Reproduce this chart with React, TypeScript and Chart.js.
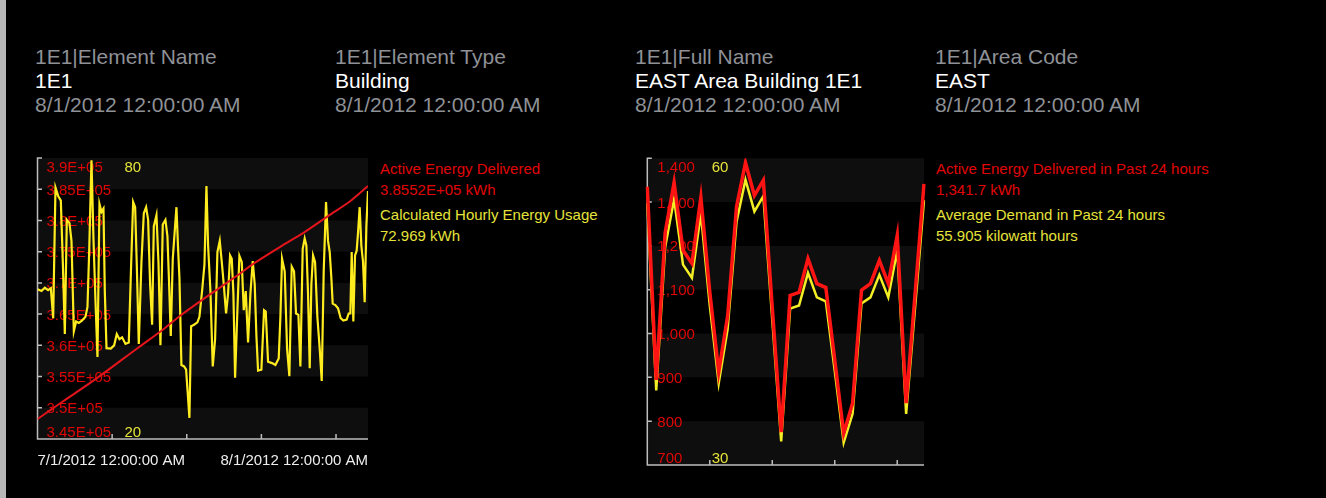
import React, { useEffect, useRef } from "react";
import { Chart, registerables } from "chart.js";

Chart.register(...registerables);

const FONT = "'Liberation Sans', Arial, Helvetica, sans-serif";

// ---------- header ----------
const headerTitles = ["1E1|Element Name", "1E1|Element Type", "1E1|Full Name", "1E1|Area Code"];
const headerValues = ["1E1", "Building", "EAST Area Building 1E1", "EAST"];
const headerTimes = ["8/1/2012 12:00:00 AM", "8/1/2012 12:00:00 AM", "8/1/2012 12:00:00 AM", "8/1/2012 12:00:00 AM"];

// ---------- left chart (hours since 7/1/2012) ----------
const usageHours = [
  0, 9, 16.5, 24, 30, 35.3, 40.5, 46.5, 52.5, 57, 61.5, 66, 72, 76.5, 81.8, 87, 93, 100.5, 108, 112.5,
  116.3, 121.5, 126, 130.5, 135, 139.5, 144, 148.5, 151.5, 155.3, 165, 172.5, 178.5, 184.5, 190.5, 198, 205.5, 210.8, 215.3, 219.8,
  223.5, 228, 234, 239.3, 244.5, 249, 253.5, 258, 261.8, 267.8, 272.3, 276.8, 282, 288, 292.5, 296.3, 300, 304.5, 312.8, 316.5,
  319.5, 324, 330, 334.5, 338.3, 342, 345.8, 352.5, 360, 364.5, 370.5, 375.8, 380.3, 384, 389.3, 394.5, 399.8, 405, 410.3, 414.8,
  419.3, 424.5, 429, 433.5, 437.3, 441, 444.8, 450, 454.5, 459.8, 464.3, 468.8, 474, 479.3, 484.5, 489, 492.8, 496.5, 504, 510,
  513.8, 519, 528, 535.5, 543, 546.8, 550.5, 556.5, 561.8, 567, 572.3, 577.5, 582, 587.3, 591.8, 597, 601.5, 605.3, 609, 612.8,
  616.5, 620.3, 624.8, 630, 635.3, 639.8, 644.3, 649.5, 654, 657.8, 661.5, 664.5, 670.5, 676.5, 682.5, 688.5, 696, 700.5, 704.3, 707.3,
  711, 714.8, 718.5, 721.5, 725.3, 729, 732.8, 736.5, 740.3, 744,
];
const usageKWh = [
  52.0, 51.6, 52.3, 51.8, 52.2, 45.8, 73.7, 71.9, 70.9, 57.8, 42.4, 66.8, 66.1, 62.3, 43.0, 45.1, 44.8, 45.3, 46.1, 48.2,
  59.9, 79.5, 62.7, 49.6, 37.5, 70.2, 68.5, 69.2, 51.6, 39.4, 39.3, 40.0, 42.4, 41.3, 41.7, 40.3, 40.6, 57.2, 70.6, 69.5,
  57.2, 40.3, 57.8, 68.2, 69.5, 66.8, 53.0, 44.4, 65.4, 67.8, 57.8, 40.0, 65.8, 66.8, 63.3, 53.0, 42.0, 58.5, 69.5, 60.6,
  54.4, 35.8, 35.5, 34.8, 29.6, 24.5, 44.1, 44.4, 44.9, 46.1, 51.6, 57.2, 74.0, 61.3, 51.6, 35.5, 41.3, 59.9, 62.3, 57.8,
  53.0, 46.8, 51.0, 59.2, 58.5, 51.0, 33.1, 47.5, 59.1, 57.8, 47.5, 51.6, 40.6, 51.0, 58.0, 53.0, 42.0, 34.6, 34.8, 47.5,
  47.2, 36.5, 36.2, 35.8, 37.2, 46.1, 58.5, 55.8, 39.3, 33.4, 56.8, 55.8, 46.8, 46.5, 35.5, 60.6, 62.8, 61.3, 51.0, 35.1,
  53.0, 59.2, 57.8, 46.1, 39.3, 32.4, 55.8, 70.6, 62.3, 59.9, 54.4, 48.9, 48.6, 47.9, 45.8, 45.3, 45.5, 46.8, 46.8, 59.9,
  45.1, 59.2, 60.2, 64.0, 69.5, 61.3, 57.8, 49.2, 65.4, 72.969,
];
const energyHours = [0, 57, 133, 228, 282, 324, 369, 444, 489, 549, 594, 654, 706, 744];
const energyKWh = [348200, 351000, 354700, 359700, 362500, 364900, 367200, 370900, 373200, 375900, 377800, 380700, 383200, 385520];

const leftEnergyTicks = [345000, 350000, 355000, 360000, 365000, 370000, 375000, 380000, 385000, 390000];
const leftEnergyTickLabels = ["3.45E+05", "3.5E+05", "3.55E+05", "3.6E+05", "3.65E+05", "3.7E+05", "3.75E+05", "3.8E+05", "3.85E+05", "3.9E+05"];
const leftUsageRange = [20, 80];
const leftUsageLabels = ["20", "80"];
const leftXTickHours = [0, 168, 336, 504, 672, 744];
const leftXTickLabels = ["7/1/2012 12:00:00 AM", "", "", "", "", "8/1/2012 12:00:00 AM"];

const leftLegend = ["Active Energy Delivered", "3.8552E+05 kWh", "Calculated Hourly Energy Usage", "72.969 kWh"];

// ---------- right chart (daily) ----------
const dayLabels = [
  "7/1", "7/2", "7/3", "7/4", "7/5", "7/6", "7/7", "7/8", "7/9", "7/10", "7/11", "7/12", "7/13", "7/14", "7/15", "7/16",
  "7/17", "7/18", "7/19", "7/20", "7/21", "7/22", "7/23", "7/24", "7/25", "7/26", "7/27", "7/28", "7/29", "7/30", "7/31", "8/1",
];
const energy24h = [
  1335, 894, 1230, 1345, 1190, 1160, 1311, 1095, 912, 1040, 1290, 1390, 1315, 1350, 1060, 775,
  1087, 1094, 1171, 1114, 1105, 940, 772, 841, 1099, 1114, 1167, 1114, 1224, 841, 1090, 1341.7,
];
const demand24h = [
  55.6, 37.3, 51.3, 56.0, 49.6, 48.3, 54.6, 45.6, 38.0, 43.3, 53.8, 57.9, 54.8, 56.3, 44.2, 32.3,
  45.3, 45.6, 48.8, 46.4, 46.0, 39.2, 32.2, 35.0, 45.8, 46.4, 48.6, 46.4, 51.0, 35.0, 45.4, 55.905,
];
const rightEnergyTicks = [700, 800, 900, 1000, 1100, 1200, 1300, 1400];
const rightEnergyTickLabels = ["700", "800", "900", "1,000", "1,100", "1,200", "1,300", "1,400"];
const rightDemandRange = [30, 60];
const rightDemandLabels = ["30", "60"];
const rightXTickDays = ["7/8", "7/15", "7/22", "7/29"];

const rightLegend = ["Active Energy Delivered in Past 24 hours", "1,341.7 kWh", "Average Demand in Past 24 hours", "55.905 kilowatt hours"];

// ---------- colors ----------
const RED_TEXT = "#e00606";
const YEL_TEXT = "#e6e33a";
const BAND = "#0e0e0e";
const AXIS = "#bdbdbd";

type Decor = {
  yId: string;
  yTicks: number[];
  yLabels: string[];
  y2Id: string;
  y2Labels: string[];
  xId: string;
  xTicks: (number | string)[];
  labelOffset: number;
  y2Offset: number;
};

function makeDecor(d: Decor) {
  return {
    id: "decor",
    beforeDatasetsDraw(chart: any) {
      const { ctx, chartArea: a } = chart;
      const ys = chart.scales[d.yId];
      const y2 = chart.scales[d.y2Id];
      const xs = chart.scales[d.xId];
      ctx.save();
      const desc = [...d.yTicks].sort((p, q) => q - p);
      ctx.fillStyle = BAND;
      for (let i = 0; i + 1 < desc.length; i += 2) {
        const t = ys.getPixelForValue(desc[i]);
        const b = ys.getPixelForValue(desc[i + 1]);
        ctx.fillRect(a.left, t, a.right - a.left, b - t);
      }
      ctx.font = `15px ${FONT}`;
      ctx.textAlign = "left";
      ctx.textBaseline = "alphabetic";
      const cap = 5.4;
      ctx.fillStyle = RED_TEXT;
      const last = d.yTicks.length - 1;
      d.yTicks.forEach((v, i) => {
        let cy = ys.getPixelForValue(v);
        if (i === 0) cy -= 7;
        if (i === last) cy += 8.5;
        ctx.fillText(d.yLabels[i], a.left + d.labelOffset, cy + cap);
      });
      ctx.fillStyle = YEL_TEXT;
      ctx.fillText(d.y2Labels[1], a.left + d.y2Offset, y2.getPixelForValue(y2.max) + 8.5 + cap);
      ctx.fillText(d.y2Labels[0], a.left + d.y2Offset, y2.getPixelForValue(y2.min) - 7 + cap);
      ctx.strokeStyle = AXIS;
      ctx.lineWidth = 1.5;
      ctx.beginPath();
      ctx.moveTo(a.left + 4.5, a.top);
      ctx.lineTo(a.left, a.top);
      ctx.lineTo(a.left, a.bottom);
      ctx.lineTo(a.right, a.bottom);
      d.yTicks.slice(1, -1).forEach((v) => {
        const p = ys.getPixelForValue(v);
        ctx.moveTo(a.left, p);
        ctx.lineTo(a.left + 4.5, p);
      });
      d.xTicks.forEach((v) => {
        const p = xs.getPixelForValue(typeof v === "string" ? xs.getLabels().indexOf(v) : v);
        ctx.moveTo(p, a.bottom);
        ctx.lineTo(p, a.bottom - 5);
      });
      ctx.stroke();
      ctx.restore();
    },
  };
}

function leftConfig(): any {
  return {
    type: "line",
    data: {
      datasets: [
        {
          label: "Active Energy Delivered",
          data: energyHours.map((h, i) => ({ x: h, y: energyKWh[i] })),
          yAxisID: "yE",
          borderColor: "#e3141b",
          borderWidth: 2,
          pointRadius: 0,
          tension: 0.3,
        },
        {
          label: "Calculated Hourly Energy Usage",
          data: usageHours.map((h, i) => ({ x: h, y: usageKWh[i] })),
          yAxisID: "yU",
          borderColor: "#ffec1f",
          borderWidth: 2.2,
          pointRadius: 0,
          tension: 0,
        },
      ],
    },
    options: {
      responsive: false,
      animation: false,
      layout: { padding: { left: 7.5, top: 8, right: 7, bottom: 5 } },
      plugins: { legend: { display: false }, tooltip: { enabled: false } },
      scales: {
        x: {
          type: "linear",
          min: leftXTickHours[0],
          max: leftXTickHours[leftXTickHours.length - 1],
          afterBuildTicks: (s: any) => {
            s.ticks = leftXTickHours.map((v) => ({ value: v }));
          },
          ticks: {
            align: "inner",
            autoSkip: false,
            maxRotation: 0,
            padding: 5,
            color: "#eeeeee",
            font: { family: FONT, size: 15 },
            callback: (_v: any, i: number) => leftXTickLabels[i],
          },
          grid: { display: false },
          border: { display: false },
        },
        yE: {
          type: "linear",
          position: "left",
          display: false,
          min: leftEnergyTicks[0],
          max: leftEnergyTicks[leftEnergyTicks.length - 1],
        },
        yU: {
          type: "linear",
          position: "left",
          display: false,
          min: leftUsageRange[0],
          max: leftUsageRange[1],
        },
      },
    },
    plugins: [
      makeDecor({
        yId: "yE",
        yTicks: leftEnergyTicks,
        yLabels: leftEnergyTickLabels,
        y2Id: "yU",
        y2Labels: leftUsageLabels,
        xId: "x",
        xTicks: leftXTickHours.slice(1, -1),
        labelOffset: 9,
        y2Offset: 87,
      }),
    ],
  };
}

function rightConfig(): any {
  return {
    type: "line",
    data: {
      labels: dayLabels,
      datasets: [
        {
          label: "Active Energy Delivered in Past 24 hours",
          data: energy24h,
          yAxisID: "yE",
          borderColor: "#ff1414",
          borderWidth: 3.5,
          pointRadius: 0,
          tension: 0,
        },
        {
          label: "Average Demand in Past 24 hours",
          data: demand24h,
          yAxisID: "yD",
          borderColor: "#f4ef24",
          borderWidth: 2.5,
          pointRadius: 0,
          tension: 0,
        },
      ],
    },
    options: {
      responsive: false,
      animation: false,
      layout: { padding: { left: 7.3, top: 8.3, right: 11, bottom: 15 } },
      plugins: { legend: { display: false }, tooltip: { enabled: false } },
      scales: {
        x: { type: "category", display: false, offset: false },
        yE: {
          type: "linear",
          display: false,
          min: rightEnergyTicks[0],
          max: rightEnergyTicks[rightEnergyTicks.length - 1],
        },
        yD: {
          type: "linear",
          display: false,
          min: rightDemandRange[0],
          max: rightDemandRange[1],
        },
      },
    },
    plugins: [
      makeDecor({
        yId: "yE",
        yTicks: rightEnergyTicks,
        yLabels: rightEnergyTickLabels,
        y2Id: "yD",
        y2Labels: rightDemandLabels,
        xId: "x",
        xTicks: rightXTickDays,
        labelOffset: 10,
        y2Offset: 64.4,
      }),
    ],
  };
}

function ChartBox(props: { left: number; top: number; width: number; height: number; build: () => any }) {
  const ref = useRef<HTMLCanvasElement | null>(null);
  useEffect(() => {
    if (!ref.current) return;
    const c = new Chart(ref.current, props.build());
    return () => c.destroy();
  }, []);
  return (
    <canvas
      ref={ref}
      width={props.width}
      height={props.height}
      style={{ position: "absolute", left: props.left, top: props.top, width: props.width, height: props.height }}
    />
  );
}

function Legend(props: { left: number; lines: string[] }) {
  const tops = [157.7, 178.7, 203.7, 224.7];
  const colors = [RED_TEXT, RED_TEXT, YEL_TEXT, YEL_TEXT];
  return (
    <>
      {props.lines.map((t, i) => (
        <div
          key={i}
          style={{
            position: "absolute",
            left: props.left,
            top: tops[i],
            font: `15px ${FONT}`,
            lineHeight: "21px",
            color: colors[i],
            whiteSpace: "nowrap",
          }}
        >
          {t}
        </div>
      ))}
    </>
  );
}

export default function App() {
  const cols = [35, 335, 635, 935];
  return (
    <div
      style={{
        position: "fixed",
        left: 0,
        top: 0,
        width: 1326,
        height: 498,
        background: "#000",
        overflow: "hidden",
        fontFamily: FONT,
      }}
    >
      <div style={{ position: "absolute", left: 0, top: 0, width: 6, height: 498, background: "#b7b7b7" }} />
      {headerTitles.map((t, i) => (
        <div
          key={i}
          style={{ position: "absolute", left: cols[i], top: 45, fontSize: 21, lineHeight: "24px", whiteSpace: "nowrap" }}
        >
          <div style={{ color: "#8e9196" }}>{t}</div>
          <div style={{ color: "#ffffff" }}>{headerValues[i]}</div>
          <div style={{ color: "#8e9196" }}>{headerTimes[i]}</div>
        </div>
      ))}
      <ChartBox left={30} top={150} width={345} height={330} build={leftConfig} />
      <Legend left={380} lines={leftLegend} />
      <ChartBox left={640} top={150} width={295} height={330} build={rightConfig} />
      <Legend left={936} lines={rightLegend} />
    </div>
  );
}
